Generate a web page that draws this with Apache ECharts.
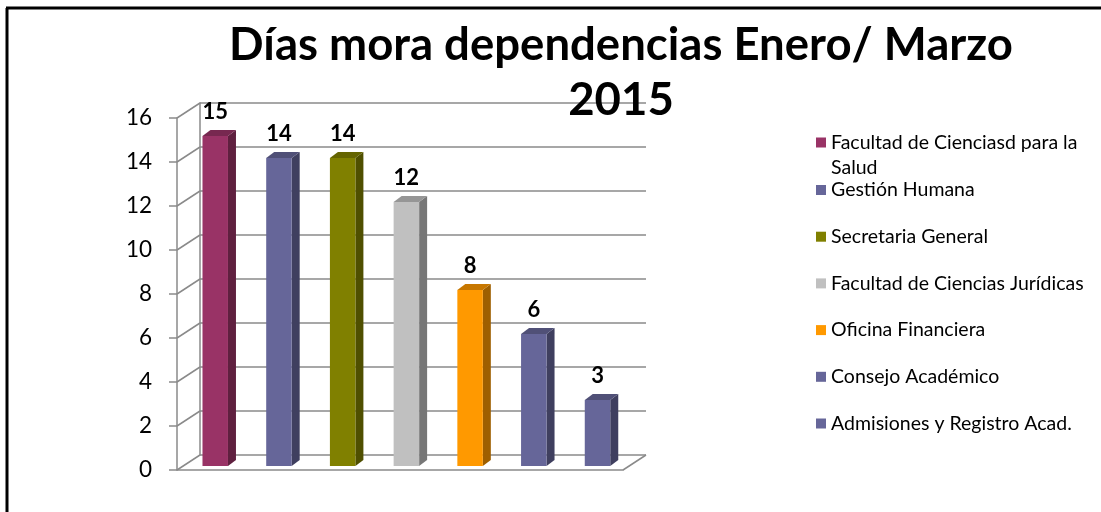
<!DOCTYPE html>
<html>
<head>
<meta charset="utf-8">
<title>Días mora dependencias</title>
<script src="https://cdn.jsdelivr.net/npm/echarts@6/dist/echarts.min.js"></script>
<style>
  html, body { margin: 0; padding: 0; background: #fff; }
  #chart { width: 1101px; height: 512px; }
</style>
</head>
<body>
<div id="chart"></div>
<script>
// data
const dependencias = [
  'Facultad de Cienciasd para la\nSalud',
  'Gestión Humana',
  'Secretaria General',
  'Facultad de Ciencias Jurídicas',
  'Oficina Financiera',
  'Consejo Académico',
  'Admisiones y Registro Acad.'
];
const diasMora = [15, 14, 14, 12, 8, 6, 3];
const colores = ['#993366', '#666699', '#808000', '#c0c0c0', '#ff9900', '#666699', '#666699'];
const yTicks = [0, 2, 4, 6, 8, 10, 12, 14, 16];

const FONT = 'Lato, "Open Sans", sans-serif';
const GRID_GRAY = '#8a8a8a';
// depth offset of the back wall
const DEPTH_X = 23, DEPTH_Y = -15;

const shade = (hex, k) => {
  const n = parseInt(hex.slice(1), 16);
  const r = Math.round(((n >> 16) & 255) * k);
  const g = Math.round(((n >> 8) & 255) * k);
  const b = Math.round((n & 255) * k);
  return 'rgb(' + r + ',' + g + ',' + b + ')';
};

const renderBar = (params, api) => {
  const ci = api.value(0);
  const v = api.value(1);
  const p0 = api.coord([ci, 0]);
  const p1 = api.coord([ci, v]);
  const bw = api.size([1, 0])[0];
  const w = bw * 0.4;
  const cx = p0[0] + bw * 0.1;
  const x0 = cx - w / 2, x1 = cx + w / 2;
  const yb = p0[1] - 4, yt = p1[1] - 4;
  const dx = 8, dy = -6;
  const base = colores[params.seriesIndex];
  return {
    type: 'group',
    children: [
      {
        type: 'polygon',
        shape: { points: [[x1, yt], [x1 + dx, yt + dy], [x1 + dx, yb + dy], [x1, yb]] },
        style: { fill: shade(base, 0.62) }
      },
      {
        type: 'polygon',
        shape: { points: [[x0, yt], [x1, yt], [x1 + dx, yt + dy], [x0 + dx, yt + dy]] },
        style: { fill: shade(base, 0.78) }
      },
      {
        type: 'rect',
        shape: { x: x0, y: yt, width: w, height: yb - yt },
        style: { fill: base }
      },
      {
        type: 'text',
        style: {
          text: String(v), x: cx, y: yt - 24,
          align: 'center', verticalAlign: 'middle',
          font: 'bold 22px ' + FONT, fill: '#000'
        }
      }
    ]
  };
};

// diagonal edges joining the front axis to the back wall
const renderDepth = (params, api) => {
  const t = api.value(1);
  const bw = api.size([1, 0])[0];
  const pl = api.coord([0, t]);
  const left = pl[0] - bw / 2;
  const lines = [{
    type: 'line',
    shape: { x1: left, y1: pl[1], x2: left + DEPTH_X, y2: pl[1] + DEPTH_Y },
    style: { stroke: GRID_GRAY, lineWidth: 1.5 }
  }];
  if (t === 0) {
    const pr = api.coord([dependencias.length - 1, 0]);
    const right = pr[0] + bw / 2;
    lines.push({
      type: 'line',
      shape: { x1: right, y1: pr[1], x2: right + DEPTH_X, y2: pr[1] + DEPTH_Y },
      style: { stroke: GRID_GRAY, lineWidth: 1.5 }
    });
  }
  return { type: 'group', children: lines };
};

const chart = echarts.init(document.getElementById('chart'));

const barSeries = dependencias.map((name, i) => ({
  type: 'custom',
  name: name,
  xAxisIndex: 0,
  yAxisIndex: 0,
  itemStyle: { color: colores[i] },
  data: [[i, diasMora[i]]],
  renderItem: renderBar,
  z: 5
}));

chart.setOption({
  backgroundColor: '#fff',
  animation: false,
  title: {
    text: 'Días mora dependencias Enero/ Marzo\n2015',
    left: 616,
    top: 13,
    textAlign: 'center',
    z: 20,
    textStyle: { fontFamily: FONT, fontWeight: 'bold', fontSize: 45.5, lineHeight: 55, color: '#000' }
  },
  legend: [
    {
      // blank first line keeps the icon level with the first text line
      data: [dependencias[0]],
      formatter: name => ' \n' + name,
      orient: 'vertical',
      left: 811,
      top: 100,
      icon: 'rect',
      itemWidth: 10,
      itemHeight: 10,
      selectedMode: false,
      textStyle: { fontFamily: FONT, fontSize: 19.5, lineHeight: 25, color: '#000' }
    },
    {
      data: dependencias.slice(1),
      orient: 'vertical',
      left: 811,
      top: 175,
      icon: 'rect',
      itemWidth: 10,
      itemHeight: 10,
      itemGap: 26.7,
      selectedMode: false,
      textStyle: { fontFamily: FONT, fontSize: 19.5, lineHeight: 20, color: '#000' }
    }
  ],
  graphic: [
    { type: 'line', shape: { x1: 7, y1: 8, x2: 7, y2: 512 }, style: { stroke: '#000', lineWidth: 3 } },
    { type: 'line', shape: { x1: 6, y1: 8, x2: 1101, y2: 8 }, style: { stroke: '#000', lineWidth: 3 } }
  ],
  grid: [
    { left: 177, right: 478, top: 118, bottom: 42 },
    { left: 200, right: 455, top: 103, bottom: 57 }
  ],
  xAxis: [
    {
      gridIndex: 0, type: 'category', data: dependencias,
      axisLine: { show: true, lineStyle: { color: GRID_GRAY, width: 1.5 } },
      axisTick: { show: false }, axisLabel: { show: false }
    },
    {
      gridIndex: 1, type: 'category', data: dependencias, show: false
    }
  ],
  yAxis: [
    {
      gridIndex: 0, type: 'value', min: 0, max: 16, interval: 2,
      axisLine: { show: true, lineStyle: { color: GRID_GRAY, width: 1.5 } },
      axisTick: { show: true, length: 8, lineStyle: { color: GRID_GRAY, width: 1.5 } },
      axisLabel: { fontFamily: FONT, fontSize: 22.5, color: '#000', margin: 25 },
      splitLine: { show: false }
    },
    {
      gridIndex: 1, type: 'value', min: 0, max: 16, interval: 2,
      axisLine: { show: true, lineStyle: { color: GRID_GRAY, width: 1.5 } },
      axisTick: { show: false }, axisLabel: { show: false },
      splitLine: { show: true, lineStyle: { color: GRID_GRAY, width: 1.5 } }
    }
  ],
  series: barSeries.concat([{
    type: 'custom',
    name: 'profundidad',
    xAxisIndex: 0,
    yAxisIndex: 0,
    silent: true,
    data: yTicks.map(t => [0, t]),
    renderItem: renderDepth,
    z: 1
  }])
});
</script>
</body>
</html>
